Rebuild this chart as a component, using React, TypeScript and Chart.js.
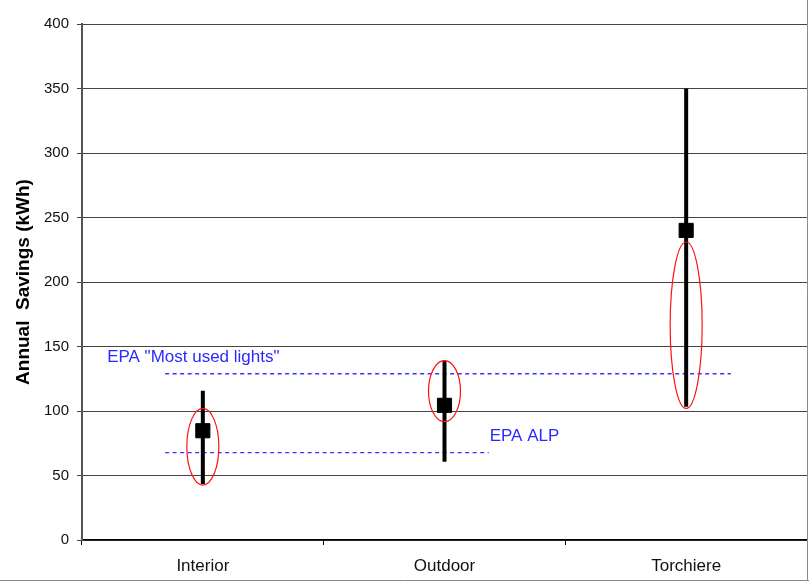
import React, { useEffect, useRef } from "react";
import { Chart, registerables } from "chart.js";

Chart.register(...registerables);

const categories = ["Interior", "Outdoor", "Torchiere"];
const meanValues = [84.7, 104.4, 240];
const rangeLow = [43.4, 60.7, 103.3];
const rangeHigh = [115.7, 139, 350];
const ellipseLow = [42.6, 91.7, 102];
const ellipseHigh = [102, 139, 231];

const refLabels = ['EPA "Most used lights"', "EPA ALP"];
const refValues = [128.9, 67.7];
const refStart = [-0.156, -0.156];
const refEnd = [2.185, 1.183];
const refLabelX = [-0.396, 1.187];
const refLabelY = [141.9, 80.6];

const yTicks = [0, 50, 100, 150, 200, 250, 300, 350, 400];

const FONT = "'Liberation Sans', Arial, sans-serif";
const BLUE = "#2a2aff";

const overlayPlugin = {
  id: "overlay",
  afterDatasetsDraw(chart: any) {
    const ctx = chart.ctx;
    const xs = chart.scales.x;
    const x2 = chart.scales.x2;
    const ys = chart.scales.y;
    ctx.save();
    ctx.strokeStyle = "#ff1010";
    ctx.lineWidth = 1.2;
    for (let i = 0; i < categories.length; i++) {
      const cx = xs.getPixelForValue(i);
      const t = ys.getPixelForValue(ellipseHigh[i]);
      const b = ys.getPixelForValue(ellipseLow[i]);
      ctx.beginPath();
      ctx.ellipse(cx, (t + b) / 2, 16, (b - t) / 2, 0, 0, Math.PI * 2);
      ctx.stroke();
    }
    ctx.fillStyle = BLUE;
    ctx.font = `17px ${FONT}`;
    ctx.textAlign = "left";
    ctx.textBaseline = "middle";
    for (let i = 0; i < refLabels.length; i++) {
      ctx.fillText(refLabels[i], x2.getPixelForValue(refLabelX[i]), ys.getPixelForValue(refLabelY[i]));
    }
    ctx.restore();
  },
  afterDraw(chart: any) {
    const ctx = chart.ctx;
    ctx.save();
    ctx.strokeStyle = "#8a8a8a";
    ctx.lineWidth = 1;
    ctx.beginPath();
    ctx.moveTo(807.5, 0);
    ctx.lineTo(807.5, 580.5);
    ctx.moveTo(0, 580.5);
    ctx.lineTo(809, 580.5);
    ctx.stroke();
    ctx.restore();
  },
};

export default function App() {
  const ref = useRef<HTMLCanvasElement>(null);
  useEffect(() => {
    if (!ref.current) return;
    const refDatasets = refValues.map((v, i) => ({
      type: "line" as const,
      xAxisID: "x2",
      data: [
        { x: refStart[i], y: v },
        { x: refEnd[i], y: v },
      ],
      borderColor: "#3535ff",
      borderWidth: 1.4,
      borderDash: [4, 3.5],
      pointRadius: 0,
      fill: false,
      order: 3,
    }));
    const rangeData: any[] = [];
    rangeLow.forEach((l, i) => {
      rangeData.push({ x: i, y: l }, { x: i, y: rangeHigh[i] }, { x: i, y: null });
    });
    const chart = new Chart(ref.current, {
      type: "line",
      data: {
        labels: categories,
        datasets: [
          ...refDatasets,
          {
            type: "line",
            xAxisID: "x2",
            data: rangeData,
            borderColor: "#000",
            borderWidth: 4,
            borderCapStyle: "butt",
            spanGaps: false,
            pointRadius: 0,
            fill: false,
            order: 2,
          } as any,
          {
            type: "line",
            data: meanValues,
            showLine: false,
            pointStyle: "rect",
            pointRadius: 10,
            pointBackgroundColor: "#000",
            pointBorderColor: "#000",
            pointBorderWidth: 1,
            order: 1,
          } as any,
        ],
      },
      options: {
        responsive: false,
        animation: false,
        layout: { autoPadding: false, padding: { top: 24, right: 2, left: 0, bottom: 0 } },
        plugins: { legend: { display: false }, tooltip: { enabled: false } },
        scales: {
          x: {
            type: "category",
            offset: true,
            grid: {
              offset: true,
              drawOnChartArea: false,
              drawTicks: true,
              tickLength: 5,
              color: "#000",
            },
            border: { color: "#000", width: 1.5 },
            ticks: { color: "#111", font: { family: FONT, size: 17 }, padding: 11 },
            afterFit(scale: any) {
              scale.height = 42;
              scale.paddingLeft = 0;
              scale.paddingRight = 0;
            },
          },
          x2: {
            type: "linear",
            display: false,
            offset: false,
            grid: { offset: false },
            bounds: "ticks",
            min: -0.5,
            max: 2.5,
          },
          y: {
            min: 0,
            max: 400,
            afterBuildTicks(scale: any) {
              scale.ticks = yTicks.map((v) => ({ value: v }));
            },
            grid: { color: "#444", lineWidth: 1, tickLength: 5, drawTicks: true },
            border: { color: "#555", width: 2 },
            ticks: { color: "#111", font: { family: FONT, size: 15 }, padding: 8 },
            title: {
              display: true,
              text: "Annual  Savings (kWh)",
              color: "#000",
              font: { family: FONT, size: 19, weight: "bold" },
              padding: { top: 12, bottom: 0 },
            },
            afterFit(scale: any) {
              scale.width = 82;
            },
          },
        },
      },
      plugins: [overlayPlugin],
    });
    return () => chart.destroy();
  }, []);
  return (
    <div style={{ position: "absolute", left: 0, top: 0, width: 809, height: 582, background: "#fff" }}>
      <canvas ref={ref} width={809} height={582} style={{ display: "block" }} />
    </div>
  );
}
